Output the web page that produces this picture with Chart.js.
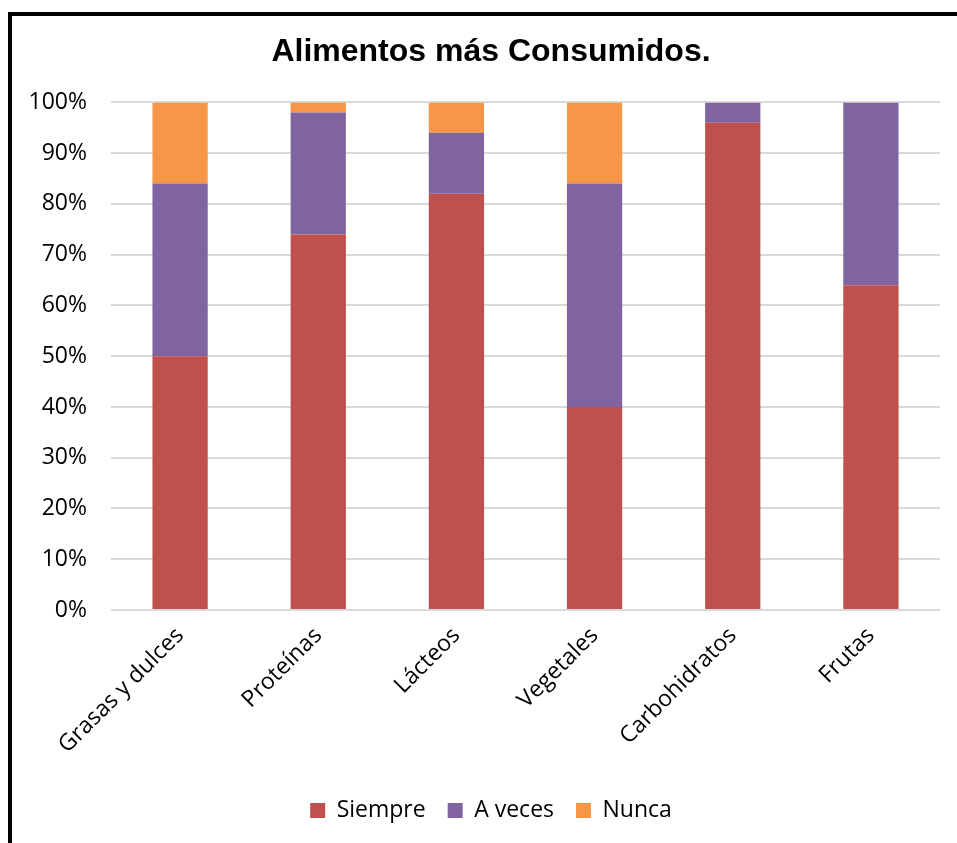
<!DOCTYPE html>
<html>
<head>
<meta charset="utf-8">
<script src="https://cdn.jsdelivr.net/npm/chart.js@4.4.0/dist/chart.umd.min.js"></script>
<style>
    html, body { margin: 0; padding: 0; background: #fff; }
    body { width: 957px; height: 843px; position: relative; overflow: hidden; }
    .frame {
        position: absolute; left: 8px; top: 12px; right: 0; bottom: 0;
        border-left: 4px solid #000; border-top: 4px solid #000;
    }
    .chart-box { position: absolute; left: 12px; top: 16px; width: 945px; height: 827px; }
</style>
</head>
<body>
<div class="frame"></div>
<div class="chart-box"><canvas id="chart"></canvas></div>
<script>
const categories = ['Grasas y dulces', 'Proteínas', 'Lácteos', 'Vegetales', 'Carbohidratos', 'Frutas'];
const siempre = [50, 74, 82, 40, 96, 64];
const aVeces = [34, 24, 12, 44, 4, 36];
const nunca = [16, 2, 6, 16, 0, 0];
const yTicks = [0, 10, 20, 30, 40, 50, 60, 70, 80, 90, 100];

const tickFont = { family: '"Open Sans", sans-serif', size: 23 };

// the source chart was cropped on the right, so its title and legend sit a bit right of centre
const shiftBlocks = {
    id: 'shiftBlocks',
    afterLayout(chart) {
        [chart.titleBlock, chart.legend].forEach(b => {
            if (!b) return;
            b.left += 15;
            b.right += 15;
        });
    }
};

new Chart(document.getElementById('chart'), {
    type: 'bar',
    data: {
        labels: categories,
        datasets: [
            { label: 'Siempre', data: siempre, backgroundColor: '#C0504D' },
            { label: 'A veces', data: aVeces, backgroundColor: '#8064A2' },
            { label: 'Nunca', data: nunca, backgroundColor: '#F79646' }
        ]
    },
    options: {
        responsive: true,
        maintainAspectRatio: false,
        animation: false,
        layout: { padding: { left: 0, right: 17, top: 0, bottom: 11 } },
        datasets: { bar: { categoryPercentage: 1, barPercentage: 0.4, borderWidth: 0 } },
        scales: {
            x: {
                stacked: true,
                grid: { display: false, drawTicks: false },
                border: { display: false },
                ticks: {
                    font: tickFont, color: '#000', autoSkip: false,
                    maxRotation: 45, minRotation: 45, padding: 12
                },
                afterFit: (scale) => { scale.height = 167; }
            },
            y: {
                stacked: true,
                min: 0, max: 100,
                afterBuildTicks: (scale) => { scale.ticks = yTicks.map(v => ({ value: v })); },
                grid: { color: '#D9D9D9', lineWidth: 2, drawTicks: false },
                border: { display: false },
                ticks: {
                    font: tickFont, color: '#000', padding: 24,
                    callback: (v) => v + '%'
                },
                afterFit: (scale) => { scale.width = 99; }
            }
        },
        plugins: {
            title: {
                display: true,
                text: 'Alimentos más Consumidos.',
                color: '#000',
                font: { family: '"Liberation Sans", Arial, sans-serif', size: 32, weight: 'bold' },
                padding: { top: 17, bottom: 31 }
            },
            legend: {
                position: 'bottom',
                labels: {
                    font: tickFont, color: '#000',
                    boxWidth: 15, boxHeight: 15, padding: 22
                }
            },
            tooltip: { enabled: false }
        }
    },
    plugins: [shiftBlocks]
});
</script>
</body>
</html>
